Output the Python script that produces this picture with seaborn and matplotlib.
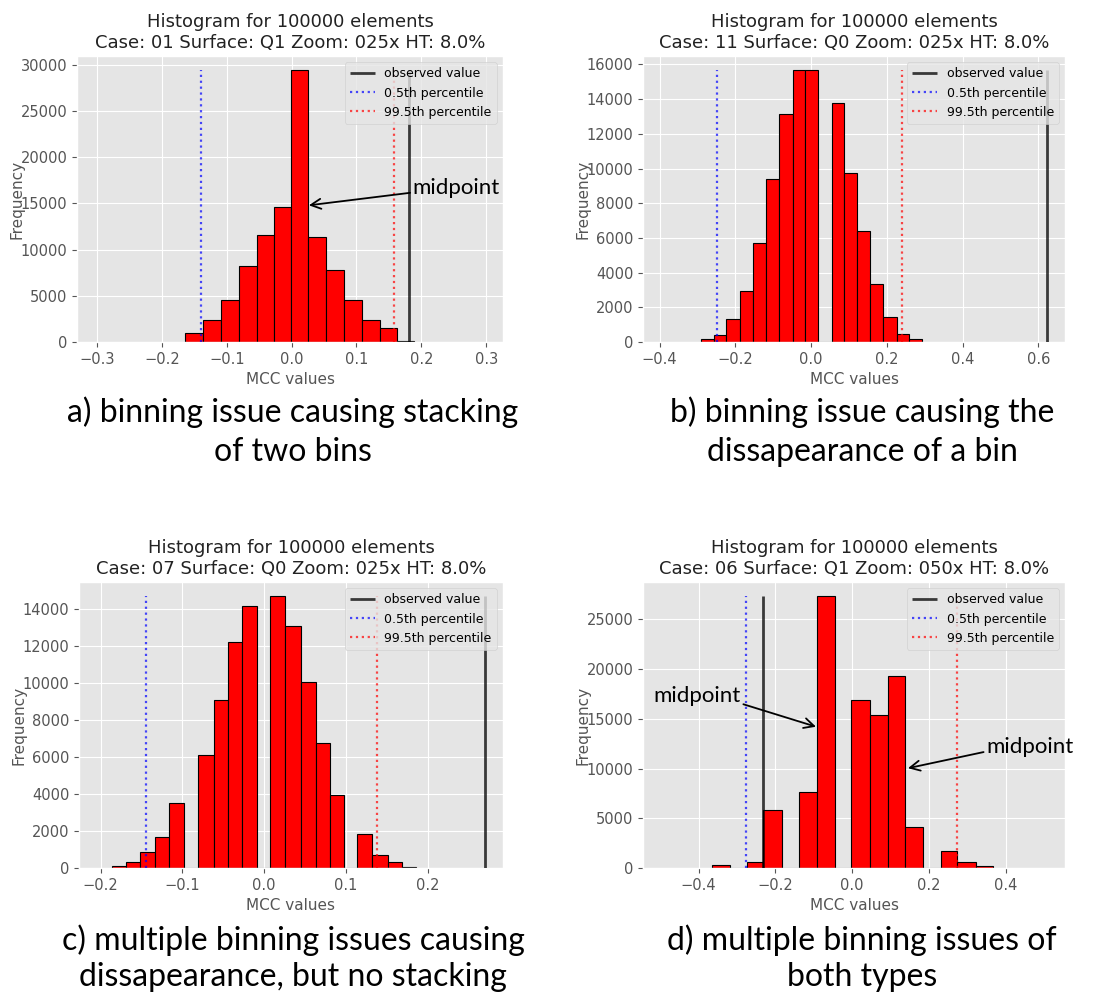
import matplotlib
matplotlib.use("Agg")
import matplotlib.pyplot as plt
import numpy as np
import pandas as pd
import seaborn as sns

plt.style.use("ggplot")

# ---------------- data ----------------
# (a) Case 01, Surface Q1, Zoom 025x
a_edges = [-0.164, -0.137, -0.109, -0.0815, -0.054, -0.027, -0.0015, 0.026,
           0.053, 0.081, 0.109, 0.136, 0.162, 0.189]
a_counts = [1010, 2420, 4580, 8260, 11620, 14580, 29450, 11330, 7760, 4510,
            2420, 1480, 120]
a_lines = {"observed": 0.1805, "p005": -0.1395, "p995": 0.158}

# (b) Case 11, Surface Q0, Zoom 025x
b_edges = [-0.290, -0.257, -0.224, -0.187, -0.153, -0.120, -0.085, -0.049,
           -0.016, 0.019, 0.054, 0.087, 0.121, 0.156, 0.190, 0.226, 0.257, 0.292]
b_counts = [150, 400, 1330, 2920, 5710, 9380, 13130, 15700, 15680, 0, 13790,
            9730, 6370, 3330, 1440, 480, 150]
b_lines = {"observed": 0.622, "p005": -0.248, "p995": 0.2405}

# (c) Case 07, Surface Q0, Zoom 025x
c_edges = [-0.1865, -0.169, -0.152, -0.134, -0.116, -0.098, -0.081, -0.062,
           -0.044, -0.027, -0.0086, 0.0065, 0.025, 0.0446, 0.063, 0.0806,
           0.097, 0.114, 0.132, 0.151, 0.169, 0.186]
c_counts = [130, 340, 850, 1690, 3510, 0, 6120, 9070, 12170, 14160, 0, 14700,
            13080, 10060, 6730, 3960, 0, 1835, 684, 306, 75]
c_lines = {"observed": 0.2695, "p005": -0.1444, "p995": 0.1378}

# (d) Case 06, Surface Q1, Zoom 050x
d_edges = [-0.366, -0.319, -0.275, -0.2316, -0.183, -0.1377, -0.091, -0.044,
           -0.0018, 0.0465, 0.093, 0.1386, 0.184, 0.2307, 0.2746, 0.3228, 0.368]
d_counts = [270, 0, 640, 5800, 0, 7680, 27380, 0, 16910, 15400, 19260, 4090,
            0, 1680, 640, 235]
d_lines = {"observed": -0.2316, "p005": -0.277, "p995": 0.273}

titles = [
    "Histogram for 100000 elements\nCase: 01 Surface: Q1 Zoom: 025x HT: 8.0%",
    "Histogram for 100000 elements\nCase: 11 Surface: Q0 Zoom: 025x HT: 8.0%",
    "Histogram for 100000 elements\nCase: 07 Surface: Q0 Zoom: 025x HT: 8.0%",
    "Histogram for 100000 elements\nCase: 06 Surface: Q1 Zoom: 050x HT: 8.0%",
]
captions = [
    ["a) binning issue causing stacking", "of two bins"],
    ["b) binning issue causing the", "dissapearance of a bin"],
    ["c) multiple binning issues causing", "dissapearance, but no stacking"],
    ["d) multiple binning issues of", "both types"],
]
legend_labels = ["observed value", "0.5th percentile", "99.5th percentile"]

# ---------------- layout ----------------
W, H = 1094, 993
fig = plt.figure(figsize=(W / 100, H / 100), dpi=100)
fig.patch.set_facecolor("white")


def px_axes(left, top, right, bottom):
    return fig.add_axes([left / W, 1 - bottom / H, (right - left) / W,
                         (bottom - top) / H])


panels = [
    dict(box=(77, 56, 503, 342), edges=a_edges, counts=a_counts, lines=a_lines,
         xlim=(-0.331, 0.326), cap_x=293, cap_y=(412, 452)),
    dict(box=(643, 56, 1065, 342), edges=b_edges, counts=b_counts, lines=b_lines,
         xlim=(-0.444, 0.670), cap_x=862, cap_y=(412, 452)),
    dict(box=(79, 582, 503, 868), edges=c_edges, counts=c_counts, lines=c_lines,
         xlim=(-0.2265, 0.292), cap_x=293, cap_y=(940, 977)),
    dict(box=(643, 582, 1065, 868), edges=d_edges, counts=d_counts, lines=d_lines,
         xlim=(-0.545, 0.555), cap_x=862, cap_y=(940, 977)),
]

axes = []
for i, p in enumerate(panels):
    ax = px_axes(*p["box"])
    axes.append(ax)
    edges = [float(e) for e in p["edges"]]
    counts = [float(c) for c in p["counts"]]
    centers = [(lo + hi) / 2 for lo, hi in zip(edges[:-1], edges[1:])]
    df = pd.DataFrame({"mcc": centers, "n": counts})
    sns.histplot(data=df, x="mcc", weights="n", bins=edges, ax=ax,
                 color="red", alpha=1.0, edgecolor="black", linewidth=0.8,
                 stat="count")
    top = max(counts)
    ln = p["lines"]
    ax.vlines(ln["observed"], 0, top, colors="black", alpha=0.75,
              linewidth=2.0, label=legend_labels[0], zorder=3)
    ax.vlines(ln["p005"], 0, top, colors="blue", alpha=0.7, linestyles=":",
              linewidth=1.6, label=legend_labels[1], zorder=3)
    ax.vlines(ln["p995"], 0, top, colors="red", alpha=0.7, linestyles=":",
              linewidth=1.6, label=legend_labels[2], zorder=3)
    ax.set_xlim(*p["xlim"])
    ax.set_ylim(0, top * 1.05)
    ax.set_title(titles[i], fontsize=13, color="#222222", pad=6)
    ax.set_xlabel("MCC values", fontsize=11, color="#555555")
    ax.set_ylabel("Frequency", fontsize=11, color="#555555", labelpad=-3)
    ax.tick_params(labelsize=10.5, colors="#555555")
    ax.legend(loc="upper right", fontsize=9)

    for j, line in enumerate(captions[i]):
        fig.text(p["cap_x"] / W, 1 - p["cap_y"][j] / H, line, ha="center",
                 va="center", fontsize=23, family=["Lato", "DejaVu Sans"],
                 color="black")

# midpoint call-outs
note_font = dict(fontsize=16, family=["Lato", "DejaVu Sans"], color="black")
arrow = dict(arrowstyle="->", color="black", lw=1.3, mutation_scale=18,
             shrinkA=0, shrinkB=0)
axes[0].annotate("midpoint", xy=(0.0266, 14780), xytext=(0.187, 16600),
                 ha="left", va="center",
                 arrowprops=dict(arrow, relpos=(0.0, 0.3)), **note_font)
axes[3].annotate("midpoint", xy=(-0.094, 14200), xytext=(-0.518, 17250),
                 ha="left", va="center",
                 arrowprops=dict(arrow, relpos=(1.0, 0.15)), **note_font)
axes[3].annotate("midpoint", xy=(0.1456, 10030), xytext=(0.350, 12115),
                 ha="left", va="center",
                 arrowprops=dict(arrow, relpos=(0.0, 0.3)), **note_font)

fig.savefig("out.png", dpi=100)
